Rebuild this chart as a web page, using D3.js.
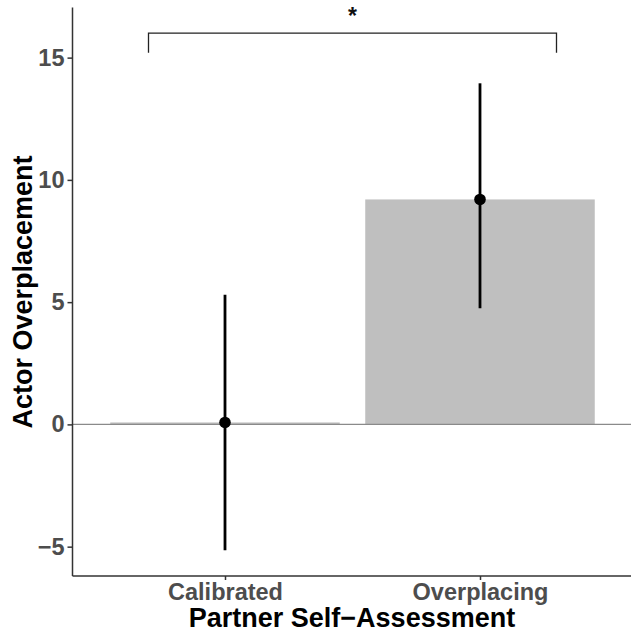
<!DOCTYPE html>
<html><head><meta charset="utf-8">
<script src="https://cdn.jsdelivr.net/npm/d3@7"></script>
<style>body{margin:0;background:#fff}svg{display:block}</style>
</head><body>
<svg id="c" width="631" height="636"></svg>
<script>
const categories = ["Calibrated", "Overplacing"];
const means = [0.08, 9.2];
const lower = [-5.15, 4.75];
const upper = [5.3, 13.95];
const yTicks = [-5, 0, 5, 10, 15];
const bracket = {x0: 0.7, x1: 2.3, top: 16, leg: 15.2, label: "*"};

const svg = d3.select("#c");
const L = 72.5, R = 633, T = 7.5, B = 576;
const x = d3.scaleLinear().domain([0.4, 2.6]).range([72, 633]);
const y = d3.scaleLinear().domain([-6.2, 17.05]).range([B, T]);
const font = "'Liberation Sans', Arial, sans-serif";

// bars
svg.selectAll("rect.bar").data(categories).enter().append("rect")
  .attr("x", (d,i) => x(i+1-0.45))
  .attr("width", (d,i) => x(i+1+0.45) - x(i+1-0.45))
  .attr("y", (d,i) => y(Math.max(0, means[i])))
  .attr("height", (d,i) => Math.abs(y(means[i]) - y(0)))
  .attr("fill", "#bfbfbf");

// zero line
svg.append("line").attr("x1", L).attr("x2", 631).attr("y1", y(0)).attr("y2", y(0))
  .attr("stroke", "#8a8a8a").attr("stroke-width", 1.2);

// error bars
svg.selectAll("line.err").data(categories).enter().append("line")
  .attr("x1", (d,i) => x(i+1)).attr("x2", (d,i) => x(i+1))
  .attr("y1", (d,i) => y(lower[i])).attr("y2", (d,i) => y(upper[i]))
  .attr("stroke", "#000").attr("stroke-width", 2.8);
svg.selectAll("circle.pt").data(categories).enter().append("circle")
  .attr("cx", (d,i) => x(i+1)).attr("cy", (d,i) => y(means[i]))
  .attr("r", 5.8).attr("fill", "#000");

// bracket
svg.append("path")
  .attr("d", `M${x(bracket.x0)},${y(bracket.leg)}V${y(bracket.top)}H${x(bracket.x1)}V${y(bracket.leg)}`)
  .attr("fill", "none").attr("stroke", "#222").attr("stroke-width", 1.3);
svg.append("text").attr("x", x((bracket.x0+bracket.x1)/2)).attr("y", 24)
  .attr("text-anchor", "middle").attr("font-family", font).attr("font-size", 23)
  .attr("font-weight", "bold").attr("fill", "#111").text(bracket.label);

// y axis
const gy = svg.append("g").attr("transform", `translate(${L},0)`)
  .call(d3.axisLeft(y).tickValues(yTicks).tickSize(5).tickPadding(3).tickFormat(d => d < 0 ? "\u2212" + Math.abs(d) : d));
gy.select(".domain").attr("stroke", "#333").attr("stroke-width", 1.5).attr("d", `M0,${T}V${B}`);
gy.selectAll(".tick line").attr("stroke", "#333").attr("stroke-width", 1.5);
gy.selectAll(".tick text").attr("font-family", font).attr("font-size", 23.5)
  .attr("font-weight", "bold").attr("fill", "#4d4d4d");

// x axis
const gx = svg.append("g").attr("transform", `translate(0,${B})`)
  .call(d3.axisBottom(x).tickValues([1,2]).tickSize(4).tickPadding(3).tickFormat((d) => categories[d-1]));
gx.select(".domain").attr("stroke", "#333").attr("stroke-width", 1.5).attr("d", `M${L},0H631`);
gx.selectAll(".tick line").attr("stroke", "#333").attr("stroke-width", 1.5);
gx.selectAll(".tick text").attr("font-family", font).attr("font-size", 23.5)
  .attr("font-weight", "bold").attr("fill", "#4d4d4d").attr("dy", 0).attr("y", 23.5);

// titles
svg.append("text").attr("x", 352).attr("y", 627).attr("text-anchor", "middle")
  .attr("font-family", font).attr("font-size", 27).attr("font-weight", "bold").attr("fill", "#000")
  .text("Partner Self\u2212Assessment");
svg.append("text").attr("transform", `translate(32,292) rotate(-90)`).attr("text-anchor", "middle")
  .attr("font-family", font).attr("font-size", 27).attr("font-weight", "bold").attr("fill", "#000")
  .text("Actor Overplacement");
</script>
</body></html>
